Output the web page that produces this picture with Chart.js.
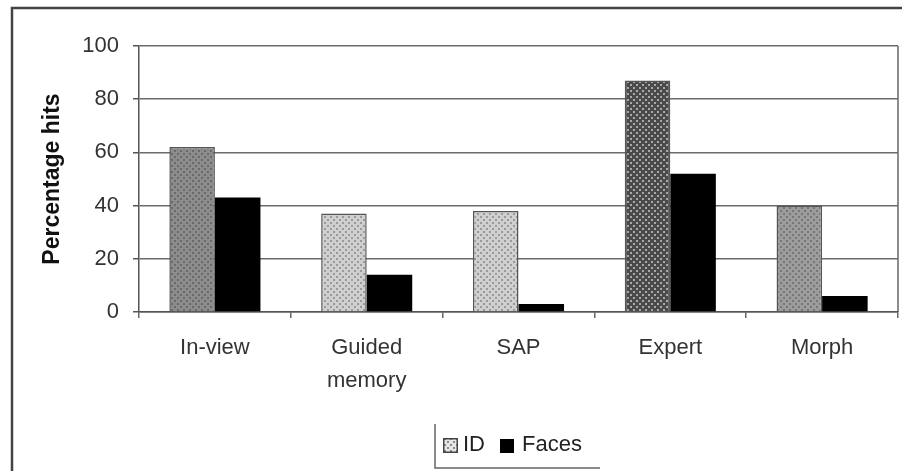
<!DOCTYPE html>
<html>
<head>
<meta charset="utf-8">
<script src="https://cdn.jsdelivr.net/npm/chart.js@4.4.1/dist/chart.umd.min.js"></script>
<style>
  html, body { margin: 0; padding: 0; background: #fff; }
  #wrap { position: relative; width: 902px; height: 471px; }
</style>
</head>
<body>
<div id="wrap"><canvas id="hitsChart"></canvas></div>
<script>
const categories = ['In-view', ['Guided', 'memory'], 'SAP', 'Expert', 'Morph'];
const idHits = [62, 37, 38, 87, 40];
const faceHits = [43, 14, 3, 52, 6];
const seriesNames = ['ID', 'Faces'];
const yMin = 0;
const yMax = 100;
const yStep = 20;

const fontFamily = '"Liberation Sans", Arial, sans-serif';

// small dotted tiles to imitate the scanned hatch fills
function dotPattern(base, dot) {
  const tile = document.createElement('canvas');
  tile.width = 6;
  tile.height = 6;
  const c = tile.getContext('2d');
  c.fillStyle = base;
  c.fillRect(0, 0, 6, 6);
  c.fillStyle = dot;
  c.fillRect(0, 0, 2, 2);
  c.fillRect(3, 3, 2, 2);
  return c.createPattern(tile, 'repeat');
}

const idFills = [
  dotPattern('#8c8c8c', '#6a6a6a'),
  dotPattern('#cfcfcf', '#9a9a9a'),
  dotPattern('#cfcfcf', '#9a9a9a'),
  dotPattern('#4a4a4a', '#a8a8a8'),
  dotPattern('#9c9c9c', '#777777')
];
const legendIdFill = dotPattern('#e6e6e6', '#8a8a8a');

const frame = {
  id: 'frame',
  beforeDraw(chart) {
    const { ctx, chartArea } = chart;
    ctx.save();
    ctx.strokeStyle = '#444';
    ctx.lineWidth = 2.5;
    ctx.beginPath();
    ctx.moveTo(12, 471);
    ctx.lineTo(12, 8);
    ctx.lineTo(902, 8);
    ctx.stroke();
    ctx.strokeStyle = '#666';
    ctx.lineWidth = 1.5;
    ctx.beginPath();
    ctx.moveTo(chartArea.right, chartArea.top);
    ctx.lineTo(chartArea.right, chartArea.bottom);
    ctx.stroke();
    ctx.restore();
  },
  afterDraw(chart) {
    const { ctx } = chart;
    ctx.save();
    ctx.strokeStyle = '#666';
    ctx.lineWidth = 1.5;
    ctx.beginPath();
    ctx.moveTo(435, 424);
    ctx.lineTo(435, 468);
    ctx.lineTo(600, 468);
    ctx.stroke();

    ctx.font = '22px ' + fontFamily;
    ctx.textBaseline = 'middle';
    let x = 443;
    const y = 445;
    chart.data.datasets.forEach((ds, i) => {
      if (i === 0) {
        ctx.fillStyle = legendIdFill;
        ctx.fillRect(x, y - 7, 15, 15);
        ctx.strokeStyle = '#444';
        ctx.lineWidth = 1.5;
        ctx.strokeRect(x + 0.75, y - 6.25, 13.5, 13.5);
        x += 20;
      } else {
        ctx.fillStyle = '#000';
        ctx.fillRect(x, y - 6, 14, 14);
        x += 22;
      }
      ctx.fillStyle = '#222';
      ctx.fillText(ds.label, x, y);
      x += ctx.measureText(ds.label).width + 15;
    });
    ctx.restore();
  }
};

new Chart(document.getElementById('hitsChart'), {
  type: 'bar',
  data: {
    labels: categories,
    datasets: [
      {
        label: seriesNames[0],
        data: idHits,
        backgroundColor: idFills,
        borderColor: '#555',
        borderWidth: 1.5,
        borderSkipped: 'bottom'
      },
      {
        label: seriesNames[1],
        data: faceHits,
        backgroundColor: '#000',
        borderWidth: 0
      }
    ]
  },
  options: {
    responsive: true,
    maintainAspectRatio: false,
    animation: false,
    layout: { padding: { left: 14, right: 4, top: 46, bottom: 0 } },
    datasets: { bar: { categoryPercentage: 0.6, barPercentage: 1 } },
    plugins: {
      legend: { display: false },
      tooltip: { enabled: false }
    },
    scales: {
      x: {
        grid: { display: true, drawOnChartArea: false, tickLength: 6, color: '#666', lineWidth: 1.5 },
        border: { display: true, color: '#555', width: 1.5 },
        ticks: {
          color: '#333',
          padding: 13,
          maxRotation: 0,
          autoSkip: false,
          font: { family: fontFamily, size: 22, lineHeight: 1.5 }
        },
        afterFit(scale) { scale.height = 159; }
      },
      y: {
        min: yMin,
        max: yMax,
        grid: { color: '#6a6a6a', lineWidth: 1.5, tickLength: 6, tickColor: '#555' },
        border: { display: true, color: '#555', width: 1.5 },
        ticks: {
          stepSize: yStep,
          color: '#333',
          padding: 14,
          font: { family: fontFamily, size: 22 }
        },
        title: {
          display: true,
          text: 'Percentage hits',
          color: '#111',
          padding: { top: 25, bottom: 0 },
          font: { family: fontFamily, size: 23, weight: 'bold' }
        },
        afterFit(scale) { scale.width = 125; }
      }
    }
  },
  plugins: [frame]
});
</script>
</body>
</html>
